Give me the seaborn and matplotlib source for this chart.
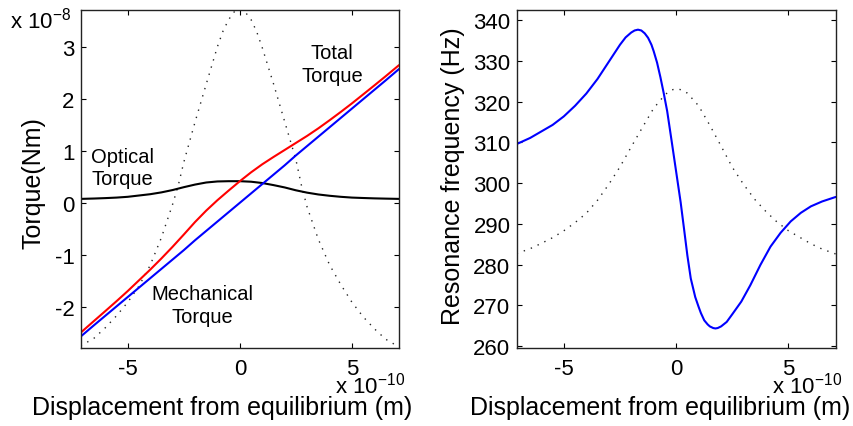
import matplotlib
matplotlib.use("Agg")
import matplotlib.pyplot as plt
import seaborn as sns

# Displacement values are in units of 1e-10 m, torques in units of 1e-8 Nm
torque_x = [-7.1, -6.5, -6.0, -5.5, -5.0, -4.5, -4.0, -3.5, -3.0, -2.5, -2.0,
            -1.5, -1.0, -0.5, 0.0, 0.5, 1.0, 1.5, 2.0, 2.5, 3.0, 3.5, 4.0,
            4.5, 5.0, 5.5, 6.0, 6.5, 7.1]
mechanical_torque = [-2.57, -2.35, -2.17, -1.99, -1.81, -1.63, -1.45, -1.27,
                     -1.09, -0.91, -0.72, -0.54, -0.36, -0.18, 0.0, 0.18, 0.36,
                     0.54, 0.72, 0.91, 1.09, 1.27, 1.45, 1.63, 1.81, 1.99, 2.17,
                     2.35, 2.57]
optical_torque = [0.075, 0.082, 0.09, 0.10, 0.115, 0.14, 0.165, 0.20, 0.245,
                  0.30, 0.35, 0.39, 0.41, 0.415, 0.415, 0.405, 0.38, 0.34,
                  0.295, 0.24, 0.195, 0.16, 0.135, 0.115, 0.10, 0.092, 0.085,
                  0.08, 0.075]
total_torque = [-2.495, -2.268, -2.08, -1.89, -1.695, -1.49, -1.285, -1.07,
                -0.845, -0.61, -0.37, -0.15, 0.05, 0.235, 0.415, 0.585, 0.74,
                0.88, 1.015, 1.15, 1.285, 1.43, 1.585, 1.745, 1.91, 2.082,
                2.255, 2.43, 2.645]

# Beam intensity profile, drawn on the torque scale
beam_x = [-7.1, -6.5, -6.0, -5.5, -5.0, -4.5, -4.0, -3.5, -3.0, -2.75, -2.5,
          -2.0, -1.5, -1.0, -0.75, -0.5, -0.25, 0.0, 0.25, 0.5, 0.75, 1.0,
          1.5, 2.0, 2.5, 2.75, 3.0, 3.5, 4.0, 4.5, 5.0, 5.5, 6.0, 6.5, 7.1]
beam_profile = [-2.75, -2.6, -2.4, -2.17, -1.91, -1.6, -1.2, -0.67, -0.03,
                0.33, 0.78, 1.55, 2.28, 3.0, 3.3, 3.52, 3.67, 3.72, 3.66, 3.52,
                3.29, 2.98, 2.29, 1.56, 0.83, 0.33, -0.08, -0.70, -1.19, -1.57,
                -1.91, -2.19, -2.42, -2.62, -2.77]

# Resonance frequency (Hz)
freq_x = [-7.1, -6.5, -6.0, -5.5, -5.0, -4.5, -4.0, -3.5, -3.0, -2.75, -2.5,
          -2.25, -2.0, -1.85, -1.7, -1.55, -1.4, -1.25, -1.1, -1.0, -0.85,
          -0.7, -0.55, -0.4, -0.2, 0.0, 0.2, 0.35, 0.5, 0.65, 0.85, 1.0, 1.1,
          1.25, 1.4, 1.5, 1.65, 1.75, 1.85, 2.0, 2.25, 2.5, 2.9, 3.3, 3.75,
          4.2, 4.65, 5.1, 5.55, 6.0, 6.5, 7.1]
resonance_freq = [309.6, 311.1, 312.7, 314.3, 316.4, 319.0, 322.0, 325.6,
                  329.8, 331.9, 334.0, 335.8, 337.0, 337.5, 337.7, 337.5,
                  336.8, 335.7, 334.0, 332.4, 329.6, 326.0, 322.0, 317.7,
                  310.3, 302.8, 295.3, 288.8, 282.2, 276.6, 272.0, 269.6,
                  268.1, 266.3, 265.3, 264.8, 264.4, 264.3, 264.4, 264.8,
                  265.9, 267.8, 270.9, 274.9, 279.9, 284.4, 287.8, 290.6,
                  292.7, 294.3, 295.5, 296.6]

profile_x = [-7.1, -6.5, -6.0, -5.5, -5.0, -4.5, -4.0, -3.5, -3.0, -2.5, -2.0,
             -1.5, -1.0, -0.5, -0.25, 0.0, 0.25, 0.5, 1.0, 1.5, 2.0, 2.5, 3.0,
             3.5, 4.0, 4.5, 5.0, 5.5, 6.0, 6.5, 7.1]
profile_freq = [282.7, 283.9, 285.2, 286.6, 288.3, 290.3, 292.6, 295.8, 299.7,
                304.0, 308.9, 313.7, 318.4, 321.7, 322.8, 323.2, 322.9, 322.1,
                319.0, 314.2, 309.1, 303.9, 299.7, 296.0, 293.0, 290.4, 288.3,
                286.7, 285.1, 283.8, 282.6]

torque_yticks = [-2, -1, 0, 1, 2, 3]
freq_yticks = [260, 270, 280, 290, 300, 310, 320, 330, 340]
disp_xticks = [-5, 0, 5]

sns.set_style("ticks")
plt.rcParams["font.family"] = ["Liberation Sans", "DejaVu Sans"]
plt.rcParams["axes.unicode_minus"] = False
plt.rcParams["mathtext.fontset"] = "custom"
plt.rcParams["mathtext.rm"] = "Liberation Sans"
for key in ("text.color", "axes.labelcolor", "xtick.color", "ytick.color"):
    plt.rcParams[key] = "black"

fig = plt.figure(figsize=(8.54, 4.27), dpi=100)
ax1 = fig.add_axes([0.0945, 0.1827, 0.3727, 0.7922])
ax2 = fig.add_axes([0.6050, 0.1827, 0.3735, 0.7922])

dot_style = dict(color="0.15", linewidth=1.0, linestyle=(0, (1, 4.4)))
line_w = 1.5

# Left panel: torques
sns.lineplot(x=beam_x, y=beam_profile, ax=ax1, errorbar=None, **dot_style)
sns.lineplot(x=torque_x, y=optical_torque, ax=ax1, errorbar=None,
             color="black", linewidth=line_w)
sns.lineplot(x=torque_x, y=mechanical_torque, ax=ax1, errorbar=None,
             color="#0000ff", linewidth=line_w)
sns.lineplot(x=torque_x, y=total_torque, ax=ax1, errorbar=None,
             color="#ff0000", linewidth=line_w)

# Right panel: resonance frequency
sns.lineplot(x=profile_x, y=profile_freq, ax=ax2, errorbar=None, **dot_style)
sns.lineplot(x=freq_x, y=resonance_freq, ax=ax2, errorbar=None,
             color="#0000ff", linewidth=line_w)

ax1.set_xlim(-7.1, 7.1)
ax1.set_ylim(-2.79, 3.71)
ax2.set_xlim(-7.1, 7.1)
ax2.set_ylim(259.5, 342.6)

ax1.set_yticks(torque_yticks)
ax1.set_yticklabels([str(v) for v in torque_yticks])
ax2.set_yticks(freq_yticks)
ax2.set_yticklabels([str(v) for v in freq_yticks])
for ax in (ax1, ax2):
    ax.set_xticks(disp_xticks)
    ax.set_xticklabels([str(v) for v in disp_xticks])
    ax.tick_params(direction="in", length=3.6, width=0.8, labelsize=16,
                   top=True, right=True, colors="black")
    ax.tick_params(axis="x", pad=7)
    ax.tick_params(axis="y", pad=4.5)
    for sp in ax.spines.values():
        sp.set_visible(True)
        sp.set_linewidth(1.0)
        sp.set_color("#222222")

ax1.set_xlabel("Displacement from equilibrium (m)", fontsize=18)
ax2.set_xlabel("Displacement from equilibrium (m)", fontsize=18)
ax1.set_ylabel("Torque(Nm)", fontsize=18)
ax2.set_ylabel("Resonance frequency (Hz)", fontsize=18)
ax1.xaxis.set_label_coords(0.443, -0.14)
ax2.xaxis.set_label_coords(0.449, -0.14)
ax1.yaxis.set_label_coords(-0.112, 0.49)
ax2.yaxis.set_label_coords(-0.162, 0.51)

# Curve annotations
note = dict(fontsize=14.5, ha="center", va="center", multialignment="center",
            linespacing=1.25)
ax1.text(-5.23, 0.68, "Optical\nTorque", **note)
ax1.text(4.11, 2.67, "Total\nTorque", **note)
ax1.text(-1.69, -1.96, "Mechanical\nTorque", **note)

# Axis scale multipliers
mult = r"x 10$^{\mathregular{%s}}$"
fig.text(10 / 854, 1 - 28 / 427, mult % "-8", fontsize=16, ha="left",
         va="baseline")
fig.text(405 / 854, 1 - 394 / 427, mult % "-10", fontsize=16, ha="right",
         va="baseline")
fig.text(842 / 854, 1 - 394 / 427, mult % "-10", fontsize=16, ha="right",
         va="baseline")

fig.savefig("out.png", dpi=100)
